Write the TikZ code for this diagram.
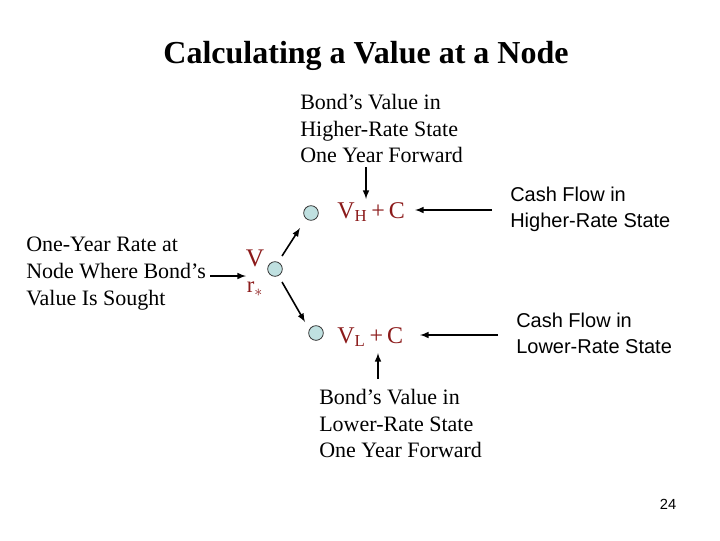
\documentclass[tikz,border=0pt]{standalone}
\usepackage{fontspec}
\setmainfont{Liberation Serif}
\newfontfamily\arialf{Liberation Sans}
\definecolor{dred}{HTML}{8B1A1A}
\definecolor{lblue}{HTML}{BFE0E0}
\begin{document}
\begin{tikzpicture}[x=0.75pt,y=-0.75pt,
  txt/.style={font=\fontsize{16.5}{20}\selectfont,align=left,inner sep=0pt},
  sans/.style={font=\arialf\fontsize{15}{19.5}\selectfont,align=left,inner sep=0pt},
  val/.style={font=\fontsize{18}{20}\selectfont,text=dred,inner sep=0pt,anchor=west},
  dot/.style={circle,draw=black!80,fill=lblue,minimum size=11pt,inner sep=0pt,line width=0.6pt},
  arr/.style={-latex,line width=1.2pt}]
\useasboundingbox (0,0) rectangle (720,540);
\node[font=\bfseries\fontsize{24}{28}\selectfont] (title) at (366,56) {Calculating a Value at a Node};
\node[txt,anchor=north west] (top) at (300,94) {Bond’s Value in\\Higher-Rate State\\One Year Forward};
\node[txt,anchor=north west] (left) at (26,237) {One-Year Rate at\\Node Where Bond’s\\Value Is Sought};
\node[txt,anchor=north west] (bot) at (319,389) {Bond’s Value in\\Lower-Rate State\\One Year Forward};
\node[sans,anchor=north west] (cfh) at (510,187) {Cash Flow in\\Higher-Rate State};
\node[sans,anchor=north west] (cfl) at (516,313) {Cash Flow in\\Lower-Rate State};
\node[font=\arialf\fontsize{11}{12}\selectfont] (pg) at (668,504) {24};
\node[dot] (d0) at (275,269) {};
\node[dot] (dh) at (311,213) {};
\node[dot] (dl) at (316,333) {};
\node[val] (vh) at (337,212) {V\textsubscript{H}\,+\,C};
\node[val] (vl) at (337,337) {V\textsubscript{L}\,+\,C};
\node[font=\fontsize{19}{20}\selectfont,text=dred,inner sep=0pt] (v) at (255,258) {V};
\node[font=\fontsize{17}{20}\selectfont,text=dred,inner sep=0pt] (r) at (255,289) {r$_{*}$};
\coordinate (la) at (210,276); \coordinate (lb) at (246,276);
\draw[arr] (la) -- (lb);
\coordinate (ua) at (282,256); \coordinate (ub) at (300,228);
\draw[arr] (ua) -- (ub);
\coordinate (da) at (282,282); \coordinate (db) at (305,322);
\draw[arr] (da) -- (db);
\coordinate (ta) at (366,167); \coordinate (tb) at (366,199);
\draw[arr] (ta) -- (tb);
\coordinate (ha) at (492,210); \coordinate (hb) at (415,210);
\draw[arr] (ha) -- (hb);
\coordinate (ma) at (498,335); \coordinate (mb) at (420,335);
\draw[arr] (ma) -- (mb);
\coordinate (ba) at (378,379); \coordinate (bb) at (378,353);
\draw[arr] (ba) -- (bb);
\end{tikzpicture}
\end{document}
